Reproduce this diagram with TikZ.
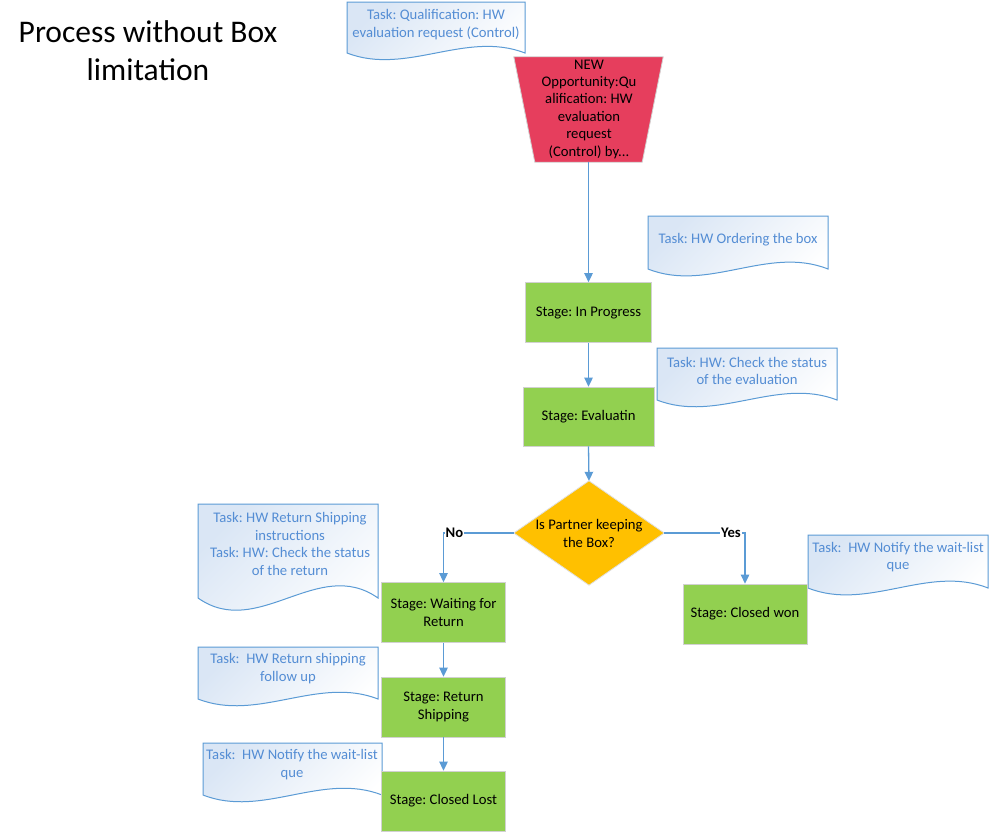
\documentclass[tikz,border=0pt]{standalone}
\usepackage{fontspec}
\setmainfont{Carlito}
\frenchspacing
\usetikzlibrary{arrows.meta,calc}
\definecolor{conn}{RGB}{91,155,213}
\definecolor{doctext}{RGB}{84,141,212}
\definecolor{docfill}{RGB}{218,230,245}
\definecolor{stagegreen}{RGB}{146,208,80}
\definecolor{trapred}{RGB}{230,62,93}
\definecolor{diayellow}{RGB}{255,192,0}
\tikzset{
  stagebox/.style={rectangle, fill=stagegreen, draw=black!18, line width=0.8pt,
    align=center, inner sep=2pt, font=\fontsize{14.67}{17.6}\selectfont},
  ghost/.style={rectangle, draw=none, inner sep=0pt},
  doctxt/.style={align=center, inner sep=0pt, text=doctext, font=\fontsize{14.67}{17.6}\selectfont},
  docshape/.style={draw=conn, line width=1pt, top color=docfill, bottom color=white, shading angle=45},
  blacktxt/.style={align=center, inner sep=0pt, font=\fontsize{14.67}{17.4}\selectfont},
  flow/.style={draw=conn, line width=1.3pt, -{Triangle[length=9pt,width=8.5pt]}},
  branchlbl/.style={fill=white, inner sep=1pt, font=\bfseries\fontsize{14.67}{17.6}\selectfont}
}
\newcommand{\docbox}[4]{%
  \pgfmathsetmacro\dw{#2-#1}%
  \pgfmathsetmacro\da{0.45*(#4-#3)}%
  \path[docshape] (#1,#3) -- (#2,#3) -- (#2,#4)
    .. controls ({#2-\dw/3},{#4-\da}) and ({#1+\dw/3},{#4+\da}) .. (#1,#4) -- cycle;
}
\begin{document}
\begin{tikzpicture}[x=1pt,y=-1pt]
\useasboundingbox (0,0) rectangle (996,839);
\fill[white] (0,0) rectangle (996,839);

% title
\node[align=center, inner sep=0pt, font=\fontsize{31.5}{38}\selectfont] (title) at (148,51) {Process without Box\\limitation};

% task documents
\docbox{347}{525}{2}{53}
\node[doctxt] (t1) at (436,24.5) {Task: Qualification: HW\\evaluation request (Control)};
\docbox{648}{828}{216}{269}
\node[doctxt] (t2) at (738,240) {Task: HW Ordering the box};
\docbox{657}{837}{348}{400}
\node[doctxt] (t3) at (747,371) {Task: HW: Check the status\\of the evaluation};
\docbox{198}{378}{504}{598}
\node[doctxt] (t4) at (290,544) {Task: HW Return Shipping\\instructions\\Task: HW: Check the status\\of the return};
\docbox{198}{378}{647}{699}
\node[doctxt] (t5) at (288,668.5) {Task:\ \ HW Return shipping\\follow up};
\docbox{203}{382}{743}{795}
\node[doctxt] (t6) at (292,764.5) {Task:\ \ HW Notify the wait-list\\que};
\docbox{808}{988}{535}{588}
\node[doctxt] (t7) at (898,557) {Task:\ \ HW Notify the wait-list\\que};

% trapezoid
\node[ghost, minimum width=149pt, minimum height=105pt] (trap) at (588.5,109.5) {};
\path[fill=trapred, draw=black!18, line width=0.8pt] (trap.north west) -- (trap.north east)
  -- ($(trap.south east)+(-21,0)$) -- ($(trap.south west)+(21,0)$) -- cycle;
\node[blacktxt] (traptxt) at (589,109) {NEW\\Opportunity:Qu\\alification: HW\\evaluation\\request\\(Control) by...};

% stages
\node[stagebox, minimum width=126pt, minimum height=60pt] (ip) at (588.5,312.5) {Stage: In Progress};
\node[stagebox, minimum width=131pt, minimum height=59pt] (ev) at (588.5,416.5) {Stage: Evaluatin};

% decision
\node[ghost, minimum width=150pt, minimum height=104pt] (dia) at (589,533) {};
\path[fill=diayellow, draw=black!12, line width=0.8pt] (dia.north) -- (dia.east) -- (dia.south) -- (dia.west) -- cycle;
\node[blacktxt] (diatxt) at (589,533.5) {Is Partner keeping\\the Box?};

\node[stagebox, minimum width=124pt, minimum height=60pt] (wait) at (443.5,612.5) {Stage: Waiting for\\Return};
\node[stagebox, minimum width=124pt, minimum height=60pt] (rs) at (443.5,707) {Stage: Return\\Shipping};
\node[stagebox, minimum width=124pt, minimum height=60pt] (cl) at (443.5,801) {Stage: Closed Lost};
\node[stagebox, minimum width=124pt, minimum height=60pt] (cw) at (745,614) {Stage: Closed won};

% connectors
\draw[flow] (trap.south) -- (ip.north);
\draw[flow] (ip.south) -- (ev.north);
\draw[flow] (ev.south) -- (dia.north);
\draw[flow] (dia.west) -| (wait.north);
\draw[flow] (dia.east) -| (cw.north);
\draw[flow] (wait.south) -- (rs.north);
\draw[flow] (rs.south) -- (cl.north);

\node[branchlbl, anchor=west] (nolbl) at (444.5,533) {No};
\node[branchlbl, anchor=east] (yeslbl) at (742,533) {Yes};
\end{tikzpicture}
\end{document}
